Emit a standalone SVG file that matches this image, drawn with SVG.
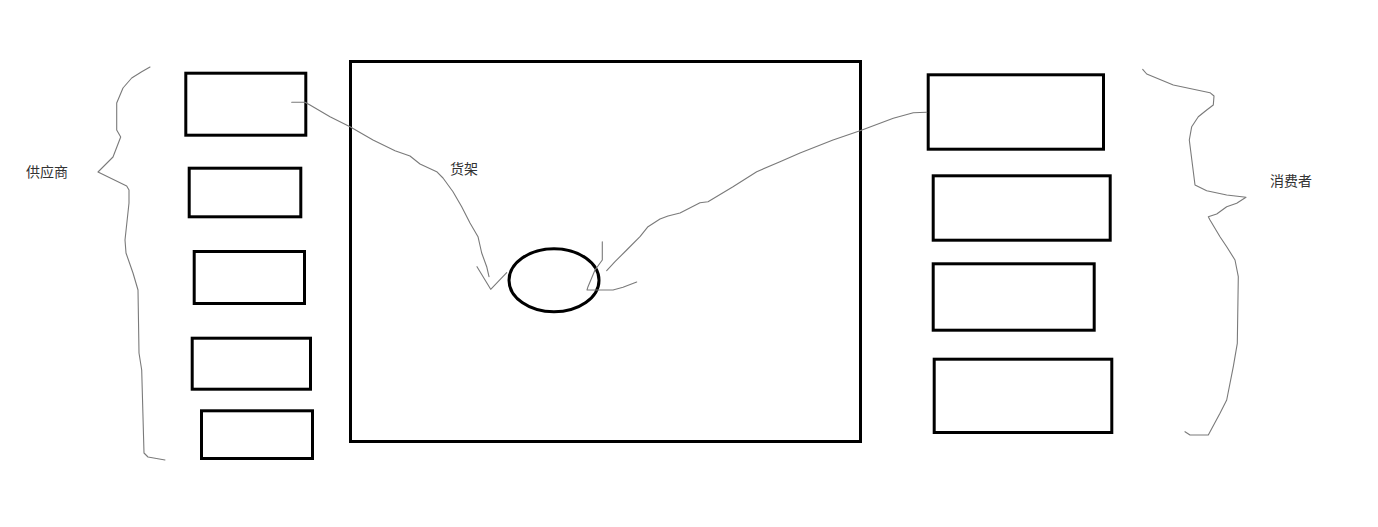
<svg xmlns="http://www.w3.org/2000/svg" width="1378" height="527" viewBox="0 0 1378 527">
<style>
.box{fill:none;stroke:#000;stroke-width:3}
.sketch{fill:none;stroke:#7a7a7a;stroke-width:1.1;stroke-linejoin:round;stroke-linecap:round}
.lbl{font-family:"Noto Sans CJK SC","Noto Sans",sans-serif;font-size:14px;fill:#333}
</style>
<rect width="1378" height="527" fill="#fff"/>
<g id="suppliers-brace">
<path class="sketch" d="M150,67 L141.7,71.7 L131.7,78 L123,88 L116.7,103 L116.7,130 L120.7,137 L113,157 L98,172 L126.7,186 L129,190 L129,203 L125,240 L126,253 L133,273 L138,290 L139,353 L141.7,370 L144,453 L148,457 L165,460"/>
<text class="lbl" x="26" y="177">供应商</text>
</g>
<g id="supplier-1"><rect class="box" x="185.8" y="73.2" width="120" height="62"/></g>
<g id="supplier-2"><rect class="box" x="189.2" y="168.2" width="111.6" height="48.6"/></g>
<g id="supplier-3"><rect class="box" x="194.2" y="251.5" width="110.3" height="52"/></g>
<g id="supplier-4"><rect class="box" x="192.2" y="338.2" width="118.3" height="51"/></g>
<g id="supplier-5"><rect class="box" x="201.5" y="410.8" width="111" height="47.7"/></g>
<g id="shelf">
<rect class="box" x="350.5" y="61.5" width="510" height="380"/>
<text class="lbl" x="450" y="174">货架</text>
</g>
<g id="item"><ellipse cx="554" cy="280.3" rx="45" ry="31.5" fill="none" stroke="#000" stroke-width="3"/></g>
<g id="consumer-1"><rect class="box" x="928.2" y="74.8" width="175.3" height="74.4"/></g>
<g id="consumer-2"><rect class="box" x="933.2" y="175.8" width="177" height="64.4"/></g>
<g id="consumer-3"><rect class="box" x="933.2" y="263.8" width="161" height="66.4"/></g>
<g id="consumer-4"><rect class="box" x="934.2" y="359.2" width="177.6" height="73.3"/></g>
<g id="consumers-brace">
<path class="sketch" d="M1142.7,69.3 L1146.7,74 L1173.3,85 L1210,92.7 L1214,96 L1213.3,105 L1206.7,110 L1198.3,116.7 L1191.7,126.7 L1189.3,140 L1192.7,166.7 L1195,185 L1206.7,190.7 L1226.7,195 L1246,197.3 L1236.7,203.3 L1226.7,206.7 L1216.7,214 L1208.3,216.7 L1210,220 L1220,236.7 L1226.7,246.7 L1235,260 L1238.3,276.7 L1237.3,343.3 L1233.3,366.7 L1226.7,400 L1220,413.3 L1208.3,435 L1190,435 L1185,431.7"/>
<text class="lbl" x="1270" y="186">消费者</text>
</g>
<g id="connectors">
<path class="sketch" d="M291.7,102.3 L305,102.3 L310,105 L330,116.7 L350,126.7 L373,140 L395,150.7 L410,156 L420,164 L436.7,171.7 L443,178 L453,191.7 L461.7,206.7 L470,223 L478,236.7 L481.7,253 L486.7,266.7 L489,276.7"/>
<path class="sketch" d="M477,266.7 L490.7,289.3 L506.7,272.7"/>
<path class="sketch" d="M926.7,112.3 L913.3,112.7 L893.3,118.3 L860,130.7 L833,140 L800,153 L780,161.7 L756.7,171.7 L733,186.7 L708,201.7 L700,202.7 L680,213 L668,216 L660,219 L648,226.7 L640,236.7 L626.7,250 L615,261.7 L606.7,270.7"/>
<path class="sketch" d="M602.3,241.7 L602.3,260 L595,270 L588,286.7 L587,290 L613,290 L623,287.3 L636.7,282"/>
</g>
</svg>
